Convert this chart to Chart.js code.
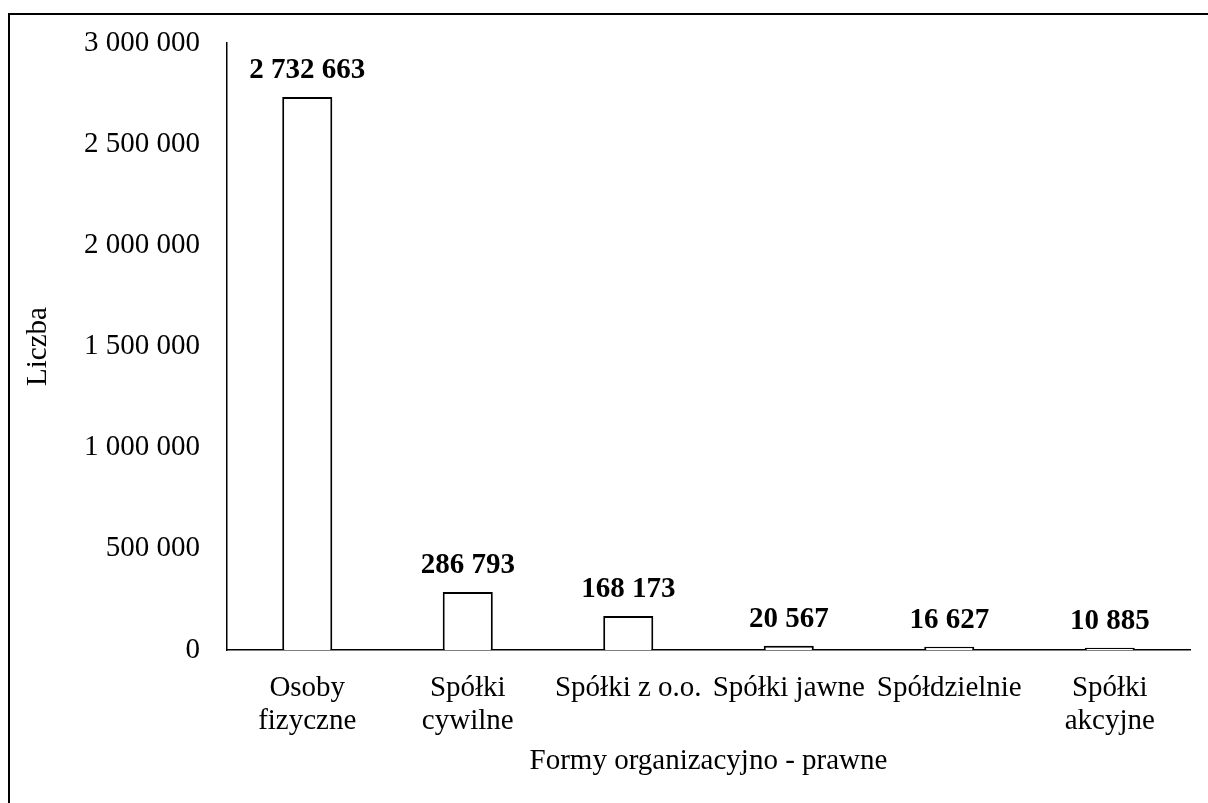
<!DOCTYPE html>
<html lang="pl">
<head>
<meta charset="utf-8">
<title>Formy organizacyjno - prawne</title>
<script src="https://cdn.jsdelivr.net/npm/chart.js@4/dist/chart.umd.min.js"></script>
<style>
  html, body { margin: 0; padding: 0; background: #fff; overflow: hidden; }
  #wrap { position: relative; width: 1208px; height: 803px; }
  #frame {
    position: absolute; left: 8px; top: 13px; width: 2000px; height: 2000px;
    border-left: 2px solid #000; border-top: 2px solid #000; box-sizing: border-box;
    pointer-events: none;
  }
  canvas { position: absolute; left: 0; top: 0; }
</style>
</head>
<body>
<div id="wrap">
  <canvas id="chart" width="1208" height="803"></canvas>
  <div id="frame"></div>
</div>
<script>
// Liczba podmiotów według form organizacyjno-prawnych
const categories = [
  ['Osoby', 'fizyczne'],
  ['Spółki', 'cywilne'],
  'Spółki z o.o.',
  'Spółki jawne',
  'Spółdzielnie',
  ['Spółki', 'akcyjne']
];
const values = [2732663, 286793, 168173, 20567, 16627, 10885];
const yMin = 0;
const yMax = 3000000;
const yStep = 500000;
const xTitle = 'Formy organizacyjno - prawne';
const yTitle = 'Liczba';

const FONT = "'Liberation Serif', 'Times New Roman', serif";

function fmt(v) {
  return String(v).replace(/\B(?=(\d{3})+(?!\d))/g, ' ');
}

// Bold value labels above each bar
const valueLabels = {
  id: 'valueLabels',
  afterDatasetsDraw(chart) {
    const ctx = chart.ctx;
    const meta = chart.getDatasetMeta(0);
    ctx.save();
    ctx.font = 'bold 29px ' + FONT;
    ctx.fillStyle = '#000';
    ctx.textAlign = 'center';
    ctx.textBaseline = 'alphabetic';
    meta.data.forEach((bar, i) => {
      ctx.fillText(fmt(chart.data.datasets[0].data[i]), bar.x, bar.y - 19);
    });
    ctx.restore();
  }
};

new Chart(document.getElementById('chart'), {
  type: 'bar',
  data: {
    labels: categories,
    datasets: [{
      data: values,
      backgroundColor: '#ffffff',
      borderColor: '#000000',
      borderWidth: 2,
      barPercentage: 0.312,
      categoryPercentage: 1.0
    }]
  },
  options: {
    responsive: false,
    devicePixelRatio: 1,
    animation: false,
    layout: { padding: { left: 0, right: 18, top: 43, bottom: 0 } },
    plugins: {
      legend: { display: false },
      tooltip: { enabled: false }
    },
    scales: {
      x: {
        grid: { display: false },
        border: { display: true, color: '#000', width: 1.5 },
        ticks: {
          color: '#000',
          font: { family: FONT, size: 29, lineHeight: '33px' },
          padding: 14,
          maxRotation: 0,
          autoSkip: false
        },
        title: {
          display: true,
          text: xTitle,
          color: '#000',
          font: { family: FONT, size: 29, lineHeight: '33px' },
          padding: { top: 0, bottom: 25 }
        },
        afterFit(scale) { scale.height = 153; }
      },
      y: {
        min: yMin,
        max: yMax,
        grid: { display: false },
        border: { display: true, color: '#000', width: 1.5 },
        ticks: {
          stepSize: yStep,
          color: '#000',
          font: { family: FONT, size: 29 },
          padding: 19,
          callback: (v) => fmt(v)
        },
        title: {
          display: true,
          text: yTitle,
          color: '#000',
          font: { family: FONT, size: 29, lineHeight: '35px' },
          padding: { top: 21, bottom: 0 }
        },
        afterFit(scale) { scale.width = 227; }
      }
    }
  },
  plugins: [valueLabels]
});
</script>
</body>
</html>
